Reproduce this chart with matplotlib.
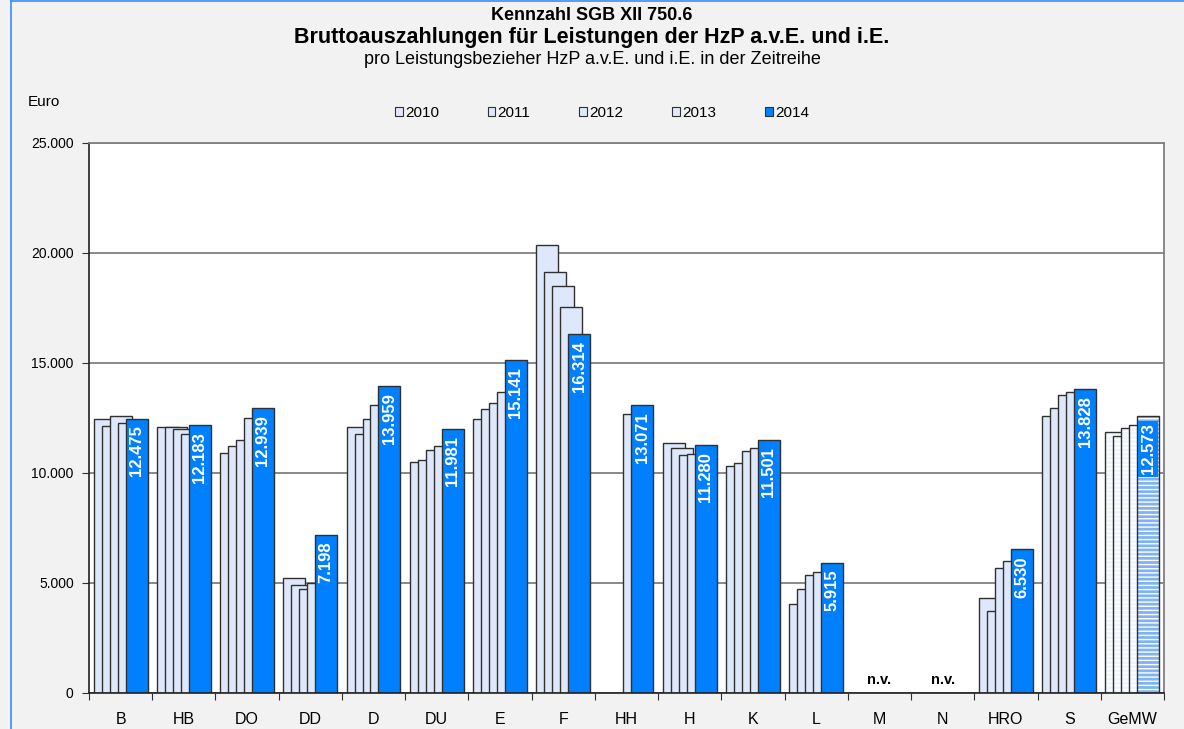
import numpy as np
import matplotlib
matplotlib.use("Agg")
import matplotlib.pyplot as plt
from matplotlib.patches import Patch
from matplotlib.lines import Line2D

plt.rcParams['font.family'] = ['Liberation Sans', 'DejaVu Sans']

# ---------------- data ----------------
cities = ["B", "HB", "DO", "DD", "D", "DU", "E", "F", "HH", "H", "K", "L",
          "M", "N", "HRO", "S", "GeMW"]
years = ["2010", "2011", "2012", "2013", "2014"]
nan = np.nan
v2010 = [12470, 12100, 10900, 5220, 12110, 10480, 12470, 20360, nan, 11370, 10330, 4040,
         nan, nan, 4340, 12590, 11870]
v2011 = [12130, 12070, 11230, 4900, 11780, 10570, 12900, 19150, nan, 11120, 10440, 4750,
         nan, nan, 3720, 12950, 11700]
v2012 = [12580, 12000, 11490, 4720, 12470, 11030, 13160, 18520, nan, 10830, 11000, 5370,
         nan, nan, 5670, 13560, 12050]
v2013 = [12290, 11780, 12510, 4980, 13110, 11220, 13700, 17540, 12690, 10880, 11120, 5520,
         nan, nan, 5990, 13670, 12170]
v2014 = [12475, 12183, 12939, 7198, 13959, 11981, 15141, 16314, 13071, 11280, 11501, 5915,
         nan, nan, 6530, 13828, 12573]
series = [v2010, v2011, v2012, v2013, v2014]

LIGHT = "#dfe8fb"
BLUE = "#0080ff"
EDGE = "#303030"

fig = plt.figure(figsize=(11.84, 7.29), dpi=100, facecolor="#f2f2f2")
ax = fig.add_axes([89/1184, 36/729, 1075/1184, 550/729])
ax.set_facecolor("white")

x = np.arange(len(cities))
bw = 0.348
step = 0.126
first = -0.4265
gm = cities.index("GeMW")

for j, vals in enumerate(series):
    vals = np.array(vals, dtype=float)
    left = x + first + j * step
    ok = ~np.isnan(vals)
    ok_normal = ok & (x != gm)
    col = BLUE if j == 4 else LIGHT
    ax.bar(left[ok_normal], vals[ok_normal], width=bw, align="edge", color=col,
           edgecolor=EDGE, linewidth=1.0, zorder=2 + j * 0.1)
    # GeMW bars: striped fill
    gcol = "#7fb3f3" if j == 4 else "#eff4fd"
    ax.bar(left[gm], vals[gm], width=bw, align="edge", color=gcol, hatch="----",
           edgecolor="white", linewidth=0, zorder=2 + j * 0.1)
    ax.bar(left[gm], vals[gm], width=bw, align="edge", fill=False,
           edgecolor=EDGE, linewidth=1.0, zorder=2.05 + j * 0.1)

# value labels in 2014 bars
for i, v in enumerate(v2014):
    xc = x[i] + first + 4 * step + bw / 2
    if np.isnan(v):
        ax.text(x[i], 250, "n.v.", ha="center", va="bottom", fontsize=10.5,
                fontweight="bold", color="black", zorder=5)
        continue
    lab = f"{v:,.0f}".replace(",", ".")
    kw = {}
    if i == gm:
        kw["bbox"] = dict(boxstyle="square,pad=0.15", facecolor=BLUE, edgecolor="none")
    ax.annotate(lab, (xc, v), xytext=(0, -5), textcoords="offset points",
                rotation=90, ha="center", va="top", color="white", fontsize=12,
                fontweight="bold", zorder=6, **kw)

ax.set_xlim(-0.5, len(cities) - 0.5)
ax.set_ylim(0, 25000)
ax.set_yticks(np.arange(0, 25001, 5000))
ax.set_yticklabels([f"{t:,.0f}".replace(",", ".") for t in np.arange(0, 25001, 5000)],
                   fontsize=10)
ax.yaxis.grid(True, color="#808080", linewidth=1.3)
ax.set_axisbelow(True)

ax.set_xticks(np.arange(-0.5, len(cities)), labels=[])
ax.set_xticks(x, labels=cities, minor=True, fontsize=11.5)
ax.tick_params(axis="x", which="major", direction="out", length=5, color="#303030")
ax.tick_params(axis="x", which="minor", length=0, pad=14)
ax.tick_params(axis="y", direction="out", length=5, color="#303030", pad=6)

for s in ("left", "bottom"):
    ax.spines[s].set_color("#202020")
    ax.spines[s].set_linewidth(1.2)
for s in ("top", "right"):
    ax.spines[s].set_color("#808080")
    ax.spines[s].set_linewidth(1.3)

# titles
fig.text(0.5, 1 - 15/729, "Kennzahl SGB XII 750.6", ha="center", va="center",
         fontsize=13, fontweight="bold")
fig.text(0.5, 1 - 38/729, "Bruttoauszahlungen für Leistungen der HzP a.v.E. und i.E.",
         ha="center", va="center", fontsize=15.5, fontweight="bold")
fig.text(0.5, 1 - 60/729, "pro Leistungsbezieher HzP a.v.E. und i.E. in der Zeitreihe",
         ha="center", va="center", fontsize=13)
fig.text(28/1184, 1 - 102/729, "Euro", ha="left", va="center", fontsize=11)

handles = [Patch(facecolor=(BLUE if i == 4 else LIGHT), edgecolor=EDGE, linewidth=0.8)
           for i in range(5)]
fig.legend(handles, years, loc="center", bbox_to_anchor=(602/1184, 1 - 113/729),
           ncol=5, frameon=False, fontsize=11, handlelength=0.5, handleheight=0.5,
           handletextpad=0.15, columnspacing=3.2)

# blue frame at the top/left edge
fig.add_artist(Line2D([11/1184, 11/1184], [0, 1], transform=fig.transFigure,
                      color="#3a8dff", linewidth=1.2))
fig.add_artist(Line2D([11/1184, 1], [1 - 1/729, 1 - 1/729], transform=fig.transFigure,
                      color="#3a8dff", linewidth=1.2))

fig.savefig("out.png", dpi=100, facecolor=fig.get_facecolor())
